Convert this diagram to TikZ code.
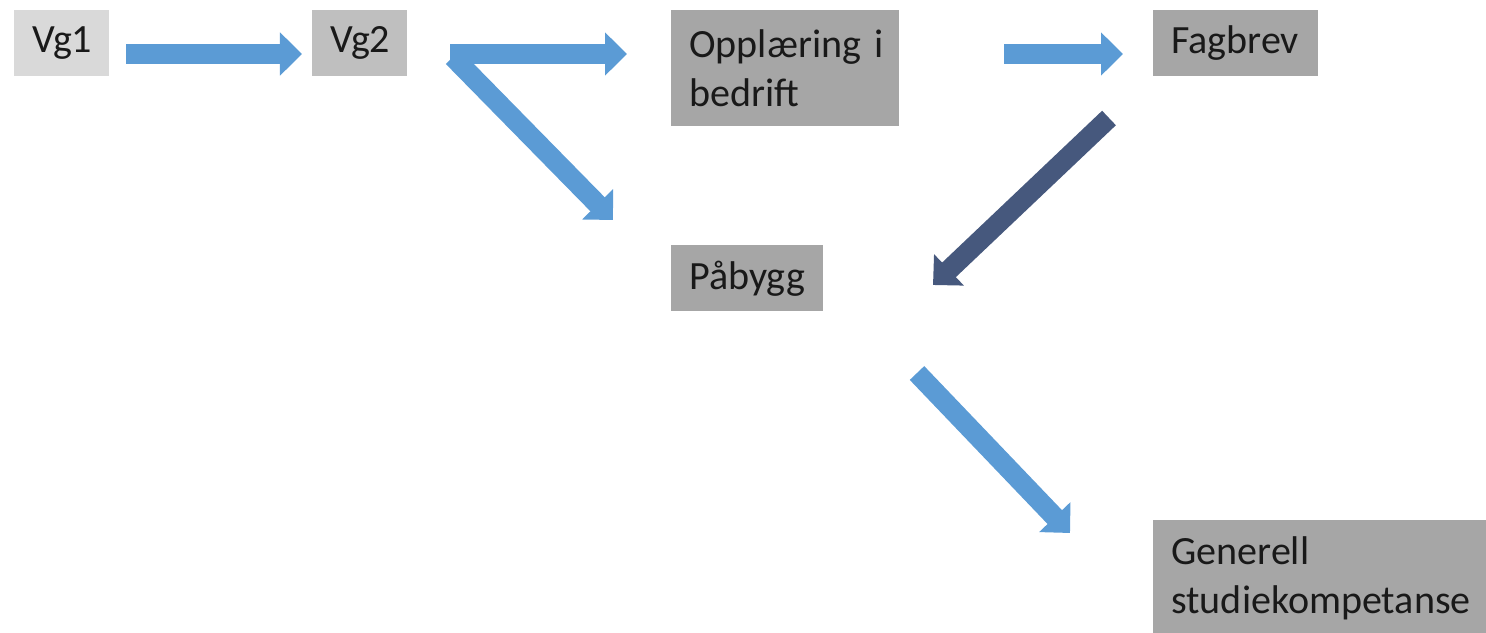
\documentclass[tikz,border=0pt]{standalone}
\usepackage{fontspec}
\setmainfont{Carlito}
\usetikzlibrary{arrows.meta}
\definecolor{boxlight}{RGB}{217,217,217}
\definecolor{boxmid}{RGB}{191,191,191}
\definecolor{boxdark}{RGB}{166,166,166}
\definecolor{arrowblue}{RGB}{91,155,213}
\definecolor{arrowslate}{RGB}{70,88,125}
\hyphenpenalty=10000

\begin{document}
\begin{tikzpicture}[x=0.025cm, y=-0.025cm,
  stepbox/.style={anchor=north west, inner xsep=0.45cm, inner ysep=0pt, align=left, text=black!90, font=\fontsize{28.5}{34.5}\selectfont},
  flowarrow/.style={line width=0.5cm, draw=arrowblue, -{Triangle[length=0.55cm, width=1.05cm]}}]
  \useasboundingbox (0,0) rectangle (1486,632);

  % Vg1 and Vg2
  \node[stepbox, fill=boxlight, minimum width=2.375cm, minimum height=1.65cm, text width=1.475cm] (vgone) at (14,10) {Vg1};
  \node[stepbox, fill=boxmid, minimum width=2.375cm, minimum height=1.65cm, text width=1.475cm] (vgtwo) at (312,10) {Vg2};

  % Training and the two outcomes
  \node[stepbox, fill=boxdark, minimum width=5.7cm, minimum height=2.9cm, text width=4.8cm] (laere) at (671,10) {Opplæring~i\\bedrift};
  \node[stepbox, fill=boxdark, minimum width=3.8cm, minimum height=1.65cm, text width=2.9cm] (paabygg) at (671,245) {Påbygg};
  \node[stepbox, fill=boxdark, minimum width=4.125cm, minimum height=1.65cm, text width=3.225cm] (fagbrev) at (1153,10) {Fagbrev};
  \node[stepbox, fill=boxdark, minimum width=8.5cm, minimum height=2.9cm, text width=7.6cm] (gsk) at (1153,520) {Generell\\studiekompetanse};

  % Arrow ends
  \coordinate (vgone-out) at (126,54);
  \coordinate (vgtwo-in) at (302,54);
  \coordinate (vgtwo-out) at (450,54);
  \coordinate (laere-in) at (627,54);
  \coordinate (vgtwo-down) at (453,57);
  \coordinate (paabygg-in) at (613,220);
  \coordinate (laere-out) at (1004,54);
  \coordinate (fagbrev-in) at (1123,54);
  \coordinate (fagbrev-out) at (1109,118);
  \coordinate (paabygg-back) at (933,285);
  \coordinate (paabygg-out) at (917,373);
  \coordinate (gsk-in) at (1070,533);

  % Arrows
  \draw[flowarrow] (vgone-out) -- (vgtwo-in);
  \draw[flowarrow] (vgtwo-down) -- (paabygg-in);
  \draw[flowarrow] (vgtwo-out) -- (laere-in);
  \draw[flowarrow] (laere-out) -- (fagbrev-in);
  \draw[flowarrow, draw=arrowslate] (fagbrev-out) -- (paabygg-back);
  \draw[flowarrow] (paabygg-out) -- (gsk-in);
\end{tikzpicture}
\end{document}
